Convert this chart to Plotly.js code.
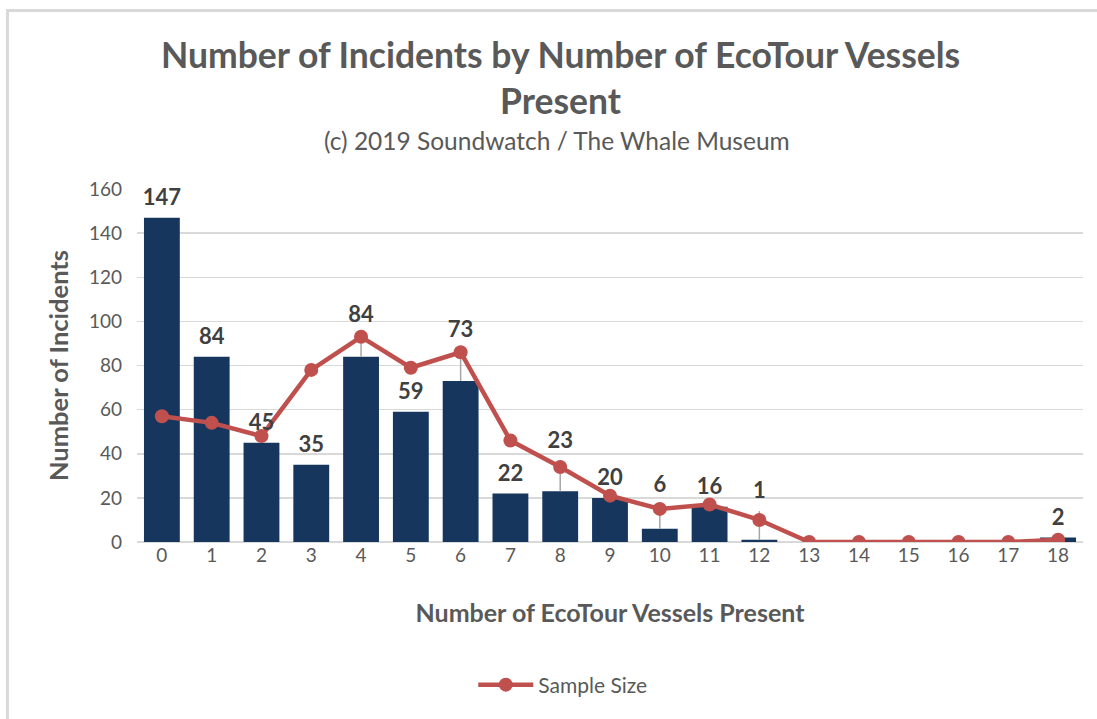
<!DOCTYPE html>
<html>
<head>
<meta charset="utf-8">
<script src="https://cdn.plot.ly/plotly-3.0.1.min.js"></script>
<style>
  html, body { margin: 0; padding: 0; background: #ffffff; overflow: hidden; }
  #chart { width: 1097px; height: 719px; }
  #frame { position: absolute; left: 6px; top: 9px; width: 1300px; height: 900px;
           border-top: 3px solid #d9d9d9; border-left: 3px solid #d9d9d9; pointer-events: none; }
</style>
</head>
<body>
<div id="chart"></div>
<div id="frame"></div>
<script>
// ---- data ----
const vessels = ["0","1","2","3","4","5","6","7","8","9","10","11","12","13","14","15","16","17","18"];
const incidents = [147, 84, 45, 35, 84, 59, 73, 22, 23, 20, 6, 16, 1, 0, 0, 0, 0, 0, 2];
const sampleSize = [57, 54, 48, 78, 93, 79, 86, 46, 34, 21, 15, 17, 10, 0, 0, 0, 0, 0, 1];
const incidentErrPlus = [0, 0, 0, 0, 10, 0, 14, 0, 14, 0, 11, 0, 13, 0, 0, 0, 0, 0, 0];
const labelTexts = ["147","84","45","35","84","59","73","22","23","20","6","16","1","","","","","","2"];

const FONT = "Lato, 'Open Sans', sans-serif";
const GREY = "#595959";

const barTrace = {
  type: "bar",
  x: vessels,
  y: incidents,
  marker: { color: "#17365d", line: { color: "#17365d", width: 0 } },
  error_y: { type: "data", symmetric: false, array: incidentErrPlus,
             arrayminus: incidents.map(() => 0), color: "#a6a6a6", thickness: 1.5, width: 0 },
  showlegend: false,
  hoverinfo: "x+y"
};

const lineTrace = {
  type: "scatter",
  mode: "lines+markers",
  name: "Sample Size",
  x: vessels,
  y: sampleSize,
  line: { color: "#c0504d", width: 4.5 },
  marker: { color: "#c0504d", size: 14 }
};

const labelTrace = {
  type: "scatter",
  mode: "markers+text",
  x: vessels,
  y: incidents.map((v, i) => v + incidentErrPlus[i]),
  text: labelTexts,
  textposition: "top center",
  textfont: { family: FONT, size: 22, color: "#404040", weight: "bold" },
  marker: { size: 10, color: "rgba(0,0,0,0)" },
  showlegend: false,
  hoverinfo: "skip",
  cliponaxis: false
};

const plotTop = 189, plotBottom = 542, plotLeft = 137, plotRight = 1083;
const pH = plotBottom - plotTop, pW = plotRight - plotLeft;

const layout = {
  width: 1097,
  height: 719,
  paper_bgcolor: "#ffffff",
  plot_bgcolor: "#ffffff",
  margin: { l: plotLeft, r: 1097 - plotRight, t: plotTop, b: 719 - plotBottom },
  font: { family: FONT, color: GREY },
  title: {
    text: "Number of Incidents by Number of EcoTour Vessels<br>Present",
    font: { family: FONT, size: 35.5, color: GREY, weight: "bold" },
    x: 0.511, xref: "container", xanchor: "center",
    y: 1 - 68 / 719, yref: "container", yanchor: "top"
  },
  annotations: [{
    text: "(c) 2019 Soundwatch / The Whale Museum",
    xref: "paper", yref: "paper",
    x: (557 - plotLeft) / pW, y: (plotBottom - 140) / pH,
    xanchor: "center", yanchor: "middle", showarrow: false,
    font: { family: FONT, size: 24.5, color: GREY }
  }],
  bargap: 0.28,
  xaxis: {
    type: "category",
    range: [-0.5, 18.5],
    tickfont: { family: FONT, size: 19, color: GREY },
    showgrid: false, zeroline: false, showline: false, ticks: "",
    title: { text: "Number of EcoTour Vessels Present",
             font: { family: FONT, size: 25, color: GREY, weight: "bold" }, standoff: 39 }
  },
  yaxis: {
    range: [0, 160],
    dtick: 20,
    tickfont: { family: FONT, size: 19, color: GREY },
    showgrid: true, gridcolor: "#d9d9d9", gridwidth: 1.5,
    zeroline: true, zerolinecolor: "#d9d9d9", zerolinewidth: 1.5,
    showline: false, ticks: "", ticklabelstandoff: 14,
    title: { text: "Number of Incidents",
             font: { family: FONT, size: 25.5, color: GREY, weight: "bold" }, standoff: 13 }
  },
  legend: {
    orientation: "h",
    xref: "container", yref: "container",
    x: 0.513, xanchor: "center", y: 1 - 685 / 719, yanchor: "middle",
    itemwidth: 55,
    font: { family: FONT, size: 21, color: GREY }
  },
  showlegend: true
};

Plotly.newPlot("chart", [barTrace, lineTrace, labelTrace], layout, { displayModeBar: false, staticPlot: true });
</script>
</body>
</html>
